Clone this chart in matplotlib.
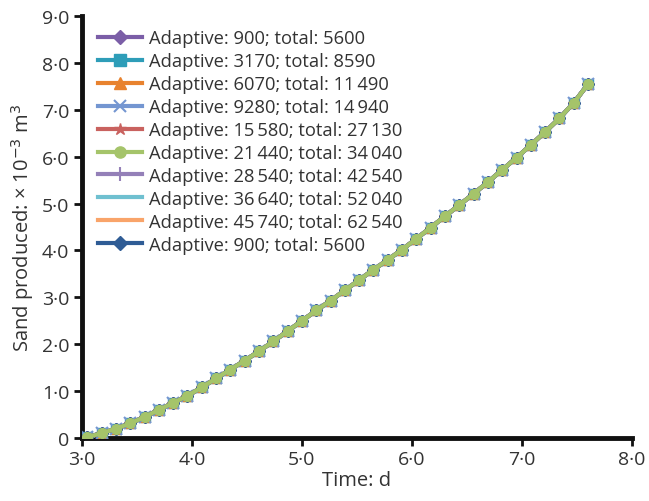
import matplotlib
matplotlib.use("Agg")
import matplotlib.pyplot as plt
from matplotlib.ticker import FixedLocator

plt.rcParams['font.family'] = ['Open Sans', 'DejaVu Sans']

time_d = [3.05, 3.18, 3.31, 3.44, 3.57, 3.70, 3.83, 3.96, 4.09, 4.22, 4.35, 4.48,
          4.61, 4.74, 4.87, 5.00, 5.13, 5.26, 5.39, 5.52, 5.65, 5.78, 5.91, 6.04,
          6.17, 6.30, 6.43, 6.56, 6.69, 6.82, 6.95, 7.08, 7.21, 7.34, 7.47, 7.60]
sand = [0.02, 0.10, 0.20, 0.31, 0.45, 0.60, 0.75, 0.90, 1.08, 1.27, 1.46, 1.65,
        1.85, 2.06, 2.28, 2.50, 2.72, 2.93, 3.15, 3.37, 3.59, 3.80, 4.02, 4.25,
        4.49, 4.73, 4.97, 5.21, 5.46, 5.72, 5.98, 6.25, 6.53, 6.82, 7.15, 7.55]

labels = ["Adaptive: 900; total: 5600",
          "Adaptive: 3170; total: 8590",
          "Adaptive: 6070; total: 11\u2009490",
          "Adaptive: 9280; total: 14\u2009940",
          "Adaptive: 15\u2009580; total: 27\u2009130",
          "Adaptive: 21\u2009440; total: 34\u2009040",
          "Adaptive: 28\u2009540; total: 42\u2009540",
          "Adaptive: 36\u2009640; total: 52\u2009040",
          "Adaptive: 45\u2009740; total: 62\u2009540",
          "Adaptive: 900; total: 5600"]
colors = ["#7B5EA7", "#2E9DB8", "#E8822E", "#7496D1", "#C9625F",
          "#A5C46A", "#9480B8", "#6FC0D0", "#F9A46A", "#2F5C95"]
markers = ["D", "s", "^", "x", "*", "o", "+", "_", "_", "D"]
msizes = [6, 7, 7, 8, 8, 7, 9, 8, 8, 6]
zorders = [3, 3, 3, 3, 3, 6, 3, 3, 3, 3]

fig = plt.figure(figsize=(6.49, 5.02), dpi=100)
ax = fig.add_axes([0.126, 0.1255, 0.848, 0.8405])

for lab, c, m, ms, z in zip(labels, colors, markers, msizes, zorders):
    kw = dict(markeredgewidth=1.5) if m in ("x", "+", "_") else dict(markeredgecolor=c)
    ax.plot(time_d, sand, color=c, marker=m, markersize=ms, linewidth=3,
            label=lab, zorder=z, **kw)

ax.set_xlim(3.0, 8.0)
ax.set_ylim(0, 9.0)
xt = [3.0, 4.0, 5.0, 6.0, 7.0, 8.0]
yt = [0, 1.0, 2.0, 3.0, 4.0, 5.0, 6.0, 7.0, 8.0, 9.0]
ax.xaxis.set_major_locator(FixedLocator(xt))
ax.yaxis.set_major_locator(FixedLocator(yt))
ax.set_xticklabels([f"{v:.1f}".replace(".", "\u00b7") for v in xt])
ax.set_yticklabels(["0"] + [f"{v:.1f}".replace(".", "\u00b7") for v in yt[1:]])

for s in ("top", "right"):
    ax.spines[s].set_visible(False)
for s in ("left", "bottom"):
    ax.spines[s].set_linewidth(3.5)
    ax.spines[s].set_color("#111111")
ax.tick_params(direction="out", length=6, width=2, colors="#111111",
               labelsize=14, labelcolor="#333333", pad=3)

ax.set_xlabel("Time: d", fontsize=14.5, color="#333333", labelpad=1)
ax.set_ylabel("Sand produced: \u00d7 10$^{\u22123}$ m$^3$", fontsize=14.5, color="#333333", labelpad=4)

leg = ax.legend(loc="upper left", bbox_to_anchor=(0.01, 0.995), frameon=False,
                fontsize=13.2, handlelength=2.4, handletextpad=0.35,
                labelspacing=0.27, borderaxespad=0.2, markerscale=1.15)
for t in leg.get_texts():
    t.set_color("#333333")

fig.savefig("out.png", dpi=100)
